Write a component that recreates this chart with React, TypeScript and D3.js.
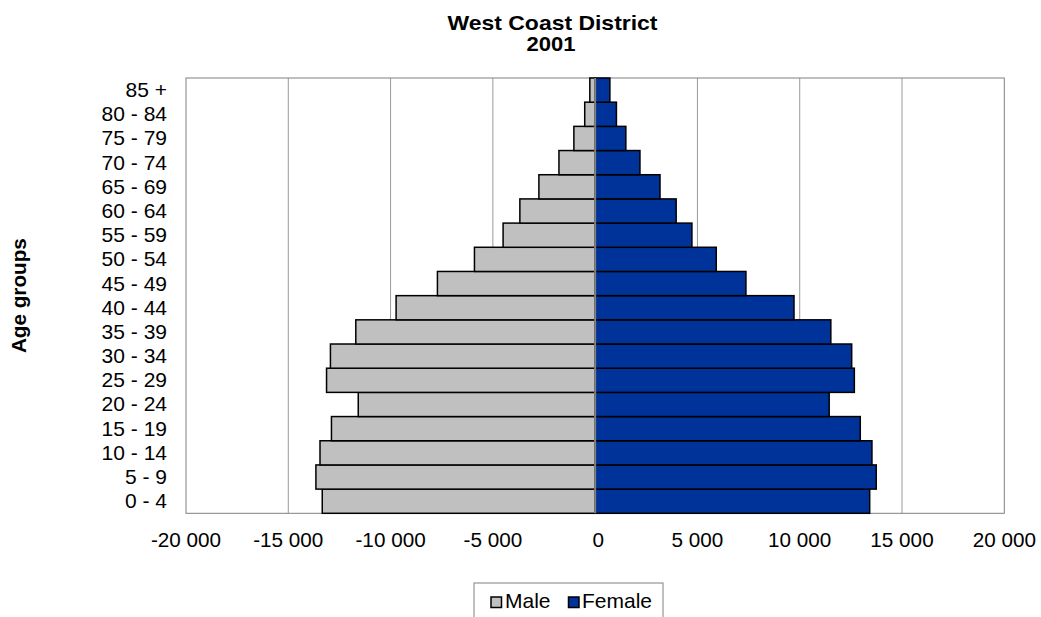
import React from "react";
import * as d3 from "d3";

const ageGroups = ["0 - 4", "5 - 9", "10 - 14", "15 - 19", "20 - 24", "25 - 29", "30 - 34", "35 - 39", "40 - 44", "45 - 49", "50 - 54", "55 - 59", "60 - 64", "65 - 69", "70 - 74", "75 - 79", "80 - 84", "85 +"];
const male = [13340, 13650, 13450, 12890, 11580, 13130, 12940, 11700, 9730, 7710, 5900, 4500, 3680, 2750, 1770, 1040, 510, 260];
const female = [13420, 13740, 13530, 12960, 11440, 12670, 12540, 11520, 9720, 7370, 5920, 4730, 3960, 3170, 2190, 1500, 1040, 720];
const xTicks = [-20000, -15000, -10000, -5000, 0, 5000, 10000, 15000, 20000];
const title = ["West Coast District", "2001"];
const seriesNames = ["Male", "Female"];
const colors = ["#C0C0C0", "#003399"];

const W = 1041, H = 617;
const left = 186, right = 1004.3, top = 78, bottom = 513.3;
const font = "Liberation Sans, Arial, sans-serif";

export default function App() {
  const x = d3.scaleLinear().domain([-20000, 20000]).range([left, right]);
  const y = d3.scaleBand().domain([...ageGroups].reverse()).range([top, bottom]).padding(0);
  const fmt = (v: number) => {
    const s = Math.abs(v).toString();
    const g = s.length > 3 ? s.slice(0, s.length - 3) + " " + s.slice(s.length - 3) : s;
    return (v < 0 ? "-" : "") + g;
  };
  return (
    <div style={{ position: "absolute", left: 0, top: 0 }}>
      <svg width={W} height={H} style={{ display: "block", fontFamily: font }}>
        <rect width={W} height={H} fill="#fff" />
        <text x={552.5} y={30} textAnchor="middle" fontSize={21} fontWeight="bold" textLength={210} lengthAdjust="spacingAndGlyphs">{title[0]}</text>
        <text x={551} y={51} textAnchor="middle" fontSize={21} fontWeight="bold" textLength={49} lengthAdjust="spacingAndGlyphs">{title[1]}</text>
        {xTicks.filter(t => t !== 0 && Math.abs(t) !== 20000).map(t => (
          <line key={t} x1={x(t)} x2={x(t)} y1={top} y2={bottom} stroke="#9a9a9a" strokeWidth={1} />
        ))}
        <rect x={left} y={top} width={right - left} height={bottom - top} fill="none" stroke="#808080" strokeWidth={1} />
        {ageGroups.map((g, i) => (
          <g key={g}>
            <rect x={x(-male[i])} y={y(g)!} width={x(0) - x(-male[i])} height={y.bandwidth()} fill={colors[0]} stroke="#000" strokeWidth={1.5} />
            <rect x={x(0)} y={y(g)!} width={x(female[i]) - x(0)} height={y.bandwidth()} fill={colors[1]} stroke="#000" strokeWidth={1.5} />
          </g>
        ))}
        <line x1={x(0)} x2={x(0)} y1={top} y2={bottom} stroke="#808080" strokeWidth={2} />
        {ageGroups.map(g => (
          <text key={g} x={167} y={y(g)! + y.bandwidth() / 2 + 7} textAnchor="end" fontSize={21}>{g}</text>
        ))}
        {xTicks.map(t => (
          <text key={t} x={x(t) + (t === 0 ? 3 : 0)} y={547} textAnchor="middle" fontSize={20.7}>{fmt(t)}</text>
        ))}
        <text transform={`translate(26,${(top + bottom) / 2}) rotate(-90)`} textAnchor="middle" fontSize={20.7} fontWeight="bold">Age groups</text>
        <rect x={474} y={583} width={189} height={40} fill="#fff" stroke="#808080" strokeWidth={1} />
        <rect x={491} y={597} width={10.5} height={10.5} fill={colors[0]} stroke="#000" strokeWidth={1.5} />
        <text x={505} y={608} fontSize={21}>{seriesNames[0]}</text>
        <rect x={568.5} y={597} width={10.5} height={10.5} fill={colors[1]} stroke="#000" strokeWidth={1.5} />
        <text x={582} y={608} fontSize={21}>{seriesNames[1]}</text>
      </svg>
    </div>
  );
}
